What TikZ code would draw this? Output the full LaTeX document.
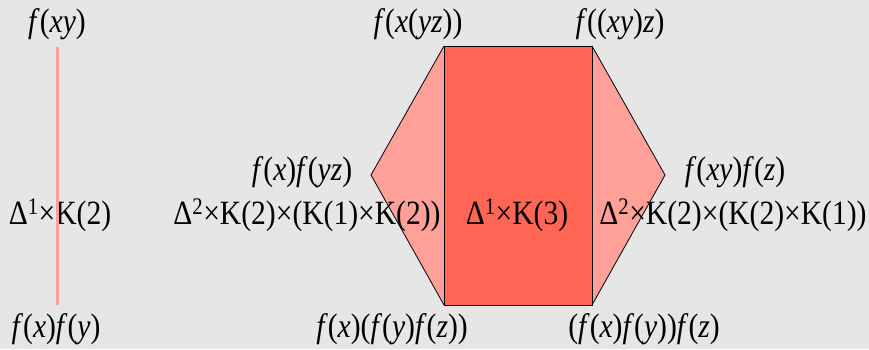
\documentclass[tikz,border=0pt]{standalone}
\usepackage{fontspec}
\setmainfont{Liberation Serif}[FakeStretch=0.87]
\definecolor{bggray}{HTML}{E6E6E6}
\definecolor{deep}{HTML}{FF6655}
\definecolor{pale}{HTML}{FFA199}
\begin{document}
\begin{tikzpicture}[x=1pt, y=-1pt,
  lbl/.style={anchor=base, inner sep=0pt, font=\fontsize{34}{40}\selectfont},
  edge/.style={draw=black, line width=0.8pt, line join=miter},
  seg/.style={draw=pale, line width=3pt}]

\fill[bggray] (0,0) rectangle (869,349);
\useasboundingbox (0,0) rectangle (869,349);

% ---- the segment ------------------------------------------------------------------
\coordinate (s1) at (57,47);
\coordinate (s2) at (57,305);

% ---- the hexagon ------------------------------------------------------------------
\coordinate (a) at (444,46);
\coordinate (b) at (592,46);
\coordinate (c) at (665,175);
\coordinate (d) at (592,305);
\coordinate (e) at (444,305);
\coordinate (g) at (371,175);

\fill[pale] (a) -- (g) -- (e) -- cycle;
\fill[pale] (b) -- (c) -- (d) -- cycle;
\fill[deep] (a) -- (b) -- (d) -- (e) -- cycle;

% ---- labels -----------------------------------------------------------------------
\node[lbl] (fxy)   at (57,32)  {\textit{f}(\textit{xy})};
\node[lbl] (k2)    at (60,224) {Δ\textsuperscript{1}×K(2)};
\node[lbl] (fxfy)  at (56,337) {\textit{f}(\textit{x})\textit{f}(\textit{y})};

\node[lbl] (fxyz1) at (418,32)  {\textit{f}(\textit{x}(\textit{yz}))};
\node[lbl] (fxyz2) at (620,32)  {\textit{f}((\textit{xy})\textit{z})};
\node[lbl] (fxfyz) at (302,180) {\textit{f}(\textit{x})\textit{f}(\textit{yz})};
\node[lbl] (fxyfz) at (735,180) {\textit{f}(\textit{xy})\textit{f}(\textit{z})};
\node[lbl] (kl)    at (307,224) {Δ\textsuperscript{2}×K(2)×(K(1)×K(2))};
\node[lbl] (k3)    at (517,224) {Δ\textsuperscript{1}×K(3)};
\node[lbl] (kr)    at (733,224) {Δ\textsuperscript{2}×K(2)×(K(2)×K(1))};
\node[lbl] (fl)    at (392,337) {\textit{f}(\textit{x})(\textit{f}(\textit{y})\textit{f}(\textit{z}))};
\node[lbl] (fr)    at (644,337) {(\textit{f}(\textit{x})\textit{f}(\textit{y}))\textit{f}(\textit{z})};

\draw[edge] (a) -- (g) -- (e);
\draw[edge] (a) -- (b) -- (d) -- (e) -- cycle;
\draw[edge] (b) -- (c) -- (d);
\draw[seg] (s1) -- (s2);

\end{tikzpicture}
\end{document}
